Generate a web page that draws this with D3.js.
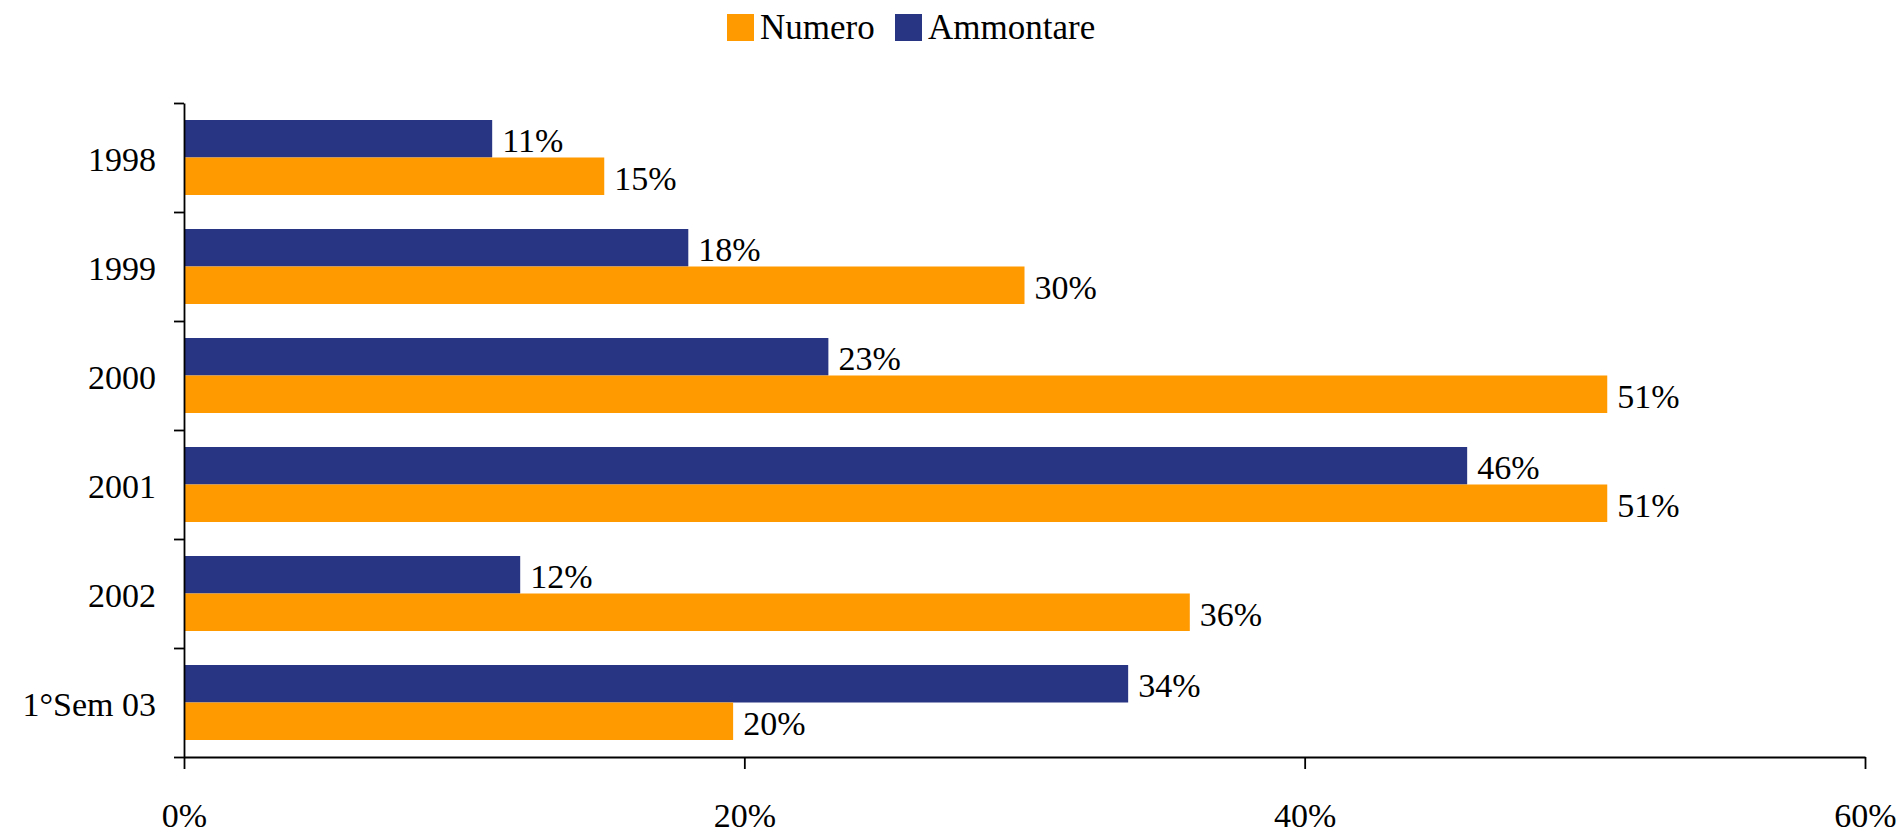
<!DOCTYPE html>
<html>
<head>
<meta charset="utf-8">
<script src="https://cdn.jsdelivr.net/npm/d3@7"></script>
<style>
  body { margin: 0; background: #fff; }
  svg { display: block; font-family: "Liberation Serif", "Times New Roman", serif; }
  .axis path, .axis line { stroke: #000; stroke-width: 1.8; }
</style>
</head>
<body>
<svg width="1899" height="834"></svg>
<script>
// dati del grafico
const categories = ["1998", "1999", "2000", "2001", "2002", "1°Sem 03"];
const numero = [0.150, 0.300, 0.508, 0.508, 0.359, 0.196];
const ammontare = [0.110, 0.180, 0.230, 0.458, 0.120, 0.337];
const xTicks = [0, 0.2, 0.4, 0.6];

const series = [
    {name: "Ammontare", values: ammontare, color: "#283582"},
    {name: "Numero", values: numero, color: "#ff9a00"}
];
const legendOrder = ["Numero", "Ammontare"];

const svg = d3.select("svg");

// area del grafico
const area = {left: 184, right: 1865, top: 103, bottom: 757};

const scX = d3.scaleLinear()
    .domain([0, 0.6])
    .range([area.left, area.right]);

const scY = d3.scaleBand()
    .domain(categories)
    .range([area.top, area.bottom])
    .paddingInner(0.312)
    .paddingOuter(0.156);

const scInner = d3.scaleBand()
    .domain(series.map(s => s.name))
    .range([0, scY.bandwidth()]);

// barre
series.forEach(s => {
    svg.selectAll("rect." + s.name)
        .data(categories)
        .enter()
        .append("rect")
        .attr("class", s.name)
        .attr("x", scX(0))
        .attr("y", d => scY(d) + scInner(s.name))
        .attr("width", (d, i) => scX(s.values[i]) - scX(0))
        .attr("height", scInner.bandwidth())
        .style("fill", s.color);

    // etichette dei valori
    svg.selectAll("text.lbl" + s.name)
        .data(categories)
        .enter()
        .append("text")
        .attr("class", "lbl" + s.name)
        .attr("x", (d, i) => scX(s.values[i]) + 10)
        .attr("y", d => scY(d) + scInner(s.name) + scInner.bandwidth() / 2 + 1.5)
        .attr("dy", "0.35em")
        .style("font-size", "34px")
        .text((d, i) => d3.format(".0%")(s.values[i]));
});

// asse verticale: tacche ai confini delle categorie
const scIdx = d3.scaleLinear()
    .domain([0, categories.length])
    .range([area.top, area.bottom]);

svg.append("g")
    .attr("class", "axis")
    .attr("transform", `translate(${area.left},0)`)
    .call(d3.axisLeft(scIdx).ticks(categories.length).tickFormat("").tickSize(10).tickSizeOuter(0));

svg.selectAll("text.cat")
    .data(categories)
    .enter()
    .append("text")
    .attr("class", "cat")
    .attr("x", 156)
    .attr("y", d => scY(d) + scY.bandwidth() / 2 + 13)
    .attr("text-anchor", "end")
    .style("font-size", "34px")
    .text(d => d);

// asse orizzontale
const gx = svg.append("g")
    .attr("class", "axis")
    .attr("transform", `translate(0,${area.bottom})`)
    .call(d3.axisBottom(scX).tickValues(xTicks).tickFormat(d3.format(".0%")).tickSize(12).tickSizeOuter(0));

gx.selectAll("text")
    .attr("y", 70)
    .attr("dy", 0)
    .style("font-size", "34px")
    .style("font-family", "'Liberation Serif', 'Times New Roman', serif")
    .style("fill", "#000");

// legenda
const legendPos = {Numero: 727, Ammontare: 895};
legendOrder.forEach(name => {
    const s = series.find(d => d.name === name);
    svg.append("rect")
        .attr("x", legendPos[name])
        .attr("y", 14)
        .attr("width", 27)
        .attr("height", 27)
        .style("fill", s.color);
    svg.append("text")
        .attr("x", legendPos[name] + 33)
        .attr("y", 39)
        .style("font-size", "35px")
        .text(name);
});
</script>
</body>
</html>
